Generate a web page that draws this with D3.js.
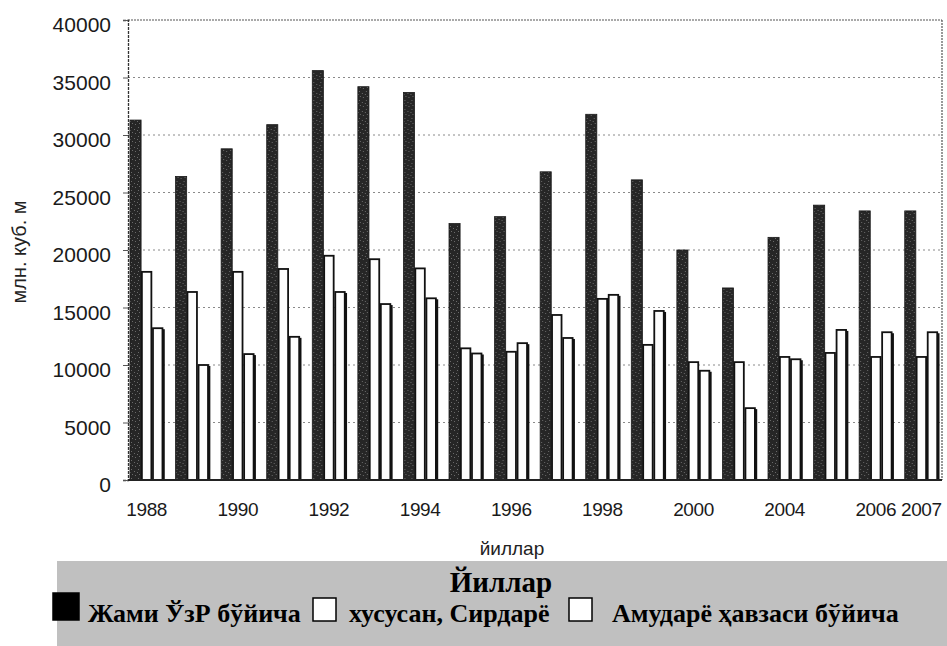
<!DOCTYPE html>
<html>
<head>
<meta charset="utf-8">
<script src="https://cdn.jsdelivr.net/npm/d3@7"></script>
<style>
  html, body { margin: 0; padding: 0; background: #fff; }
  svg { display: block; }
</style>
</head>
<body>
<svg id="chart" width="947" height="646"></svg>
<script>
// ---- data ----
const years = ["1988","1989","1990","1991","1992","1993","1994","1995","1996","1997","1998","1999","2000","2002","2004","2005","2006","2007"];
const tickLabels = ["1988","1990","1992","1994","1996","1998","2000","2004","2006","2007"];
const seriesNames = ["Жами ЎзР бўйича", "хусусан, Сирдарё", "Амударё ҳавзаси бўйича"];
const totalUz   = [31300, 26400, 28800, 30900, 35600, 34200, 33700, 22300, 22900, 26800, 31800, 26100, 20000, 16700, 21100, 23900, 23400, 23400];
const syrdarya  = [18100, 16350, 18100, 18350, 19500, 19200, 18400, 11450, 11150, 14350, 15750, 11750, 10250, 10250, 10700, 11050, 10700, 10700];
const amudarya  = [13200, 10000, 10950, 12450, 16350, 15300, 15800, 11000, 11900, 12350, 16100, 14700,  9500,  6250, 10500, 13050, 12850, 12850];
const yTicks = [0, 5000, 10000, 15000, 20000, 25000, 30000, 35000, 40000];
const yTitle = "млн. куб. м";
const xTitle = "йиллар";
const boxTitle = "Йиллар";

(function () {
const rows = years.map((yr, i) => ({ year: yr, vals: [totalUz[i], syrdarya[i], amudarya[i]] }));

const svg = d3.select("#chart");
const pL = 128, pR = 942, pT = 20, pB = 480;

const y = d3.scaleLinear().domain([0, 40000]).range([pB, pT]);
const x0 = d3.scaleBand().domain(years).range([130, 938]).paddingInner(0.27).paddingOuter(0);
const x1 = d3.scaleBand().domain([0, 1, 2]).range([0, x0.bandwidth()]).padding(0);

// texture for dark bars
const defs = svg.append("defs");
const pat = defs.append("pattern").attr("id", "tex").attr("patternUnits", "userSpaceOnUse")
  .attr("width", 7).attr("height", 9);
pat.append("rect").attr("width", 7).attr("height", 9).attr("fill", "#262626");
[[1,1],[4,3],[2,6],[5,7],[0,4]].forEach(([a,b]) =>
  pat.append("rect").attr("x", a).attr("y", b).attr("width", 1).attr("height", 1).attr("fill", "#6a6a6a"));

// grid lines
svg.append("g").selectAll("line").data(yTicks.filter(t => t > 0 && t < 40000)).join("line")
  .attr("x1", pL).attr("x2", pR)
  .attr("y1", d => y(d)).attr("y2", d => y(d))
  .attr("stroke", "#8a8a8a").attr("stroke-width", 1).attr("stroke-dasharray", "2,3");

// frame: top and right dotted
svg.append("line").attr("x1", pL).attr("x2", pR).attr("y1", pT).attr("y2", pT)
  .attr("stroke", "#555").attr("stroke-width", 1.2).attr("stroke-dasharray", "2,1");
svg.append("line").attr("x1", pR).attr("x2", pR).attr("y1", pT).attr("y2", pB)
  .attr("stroke", "#555").attr("stroke-width", 1.2).attr("stroke-dasharray", "2,1");

// y axis
const yAxis = d3.axisLeft(y).tickValues(yTicks).tickSize(5).tickPadding(12).tickFormat(d => String(d));
const gy = svg.append("g").attr("transform", `translate(${pL},0)`).call(yAxis);
gy.select(".domain").attr("stroke", "#333").attr("stroke-width", 1.3).attr("stroke-dasharray", "3,1");
gy.selectAll(".tick line").attr("stroke", "#555");
gy.selectAll(".tick text").attr("font-family", "Liberation Sans, Arial, sans-serif")
  .attr("font-size", 21).attr("fill", "#1a1a1a").attr("dy", "0.55em");

// bars
const groups = svg.append("g").selectAll("g").data(rows).join("g")
  .attr("transform", d => `translate(${x0(d.year)},0)`);
groups.selectAll("rect").data(d => d.vals.map((v, k) => ({ k, v }))).join("rect")
  .attr("x", d => x1(d.k) + (d.k === 0 ? 0 : 0.8))
  .attr("y", d => y(d.v))
  .attr("width", d => x1.bandwidth() - (d.k === 0 ? 0 : 1.6))
  .attr("height", d => y(0) - y(d.v))
  .attr("fill", d => d.k === 0 ? "url(#tex)" : "#fdfdfd")
  .attr("stroke", d => d.k === 0 ? "#1a1a1a" : "#111")
  .attr("stroke-width", d => d.k === 0 ? 0.8 : 1.8);
// shadow edge on right of second white bar
groups.append("rect")
  .attr("x", x1(2) + x1.bandwidth() - 1)
  .attr("y", d => y(d.vals[2]) + 1)
  .attr("width", 2.5)
  .attr("height", d => y(0) - y(d.vals[2]) - 1)
  .attr("fill", "#111");

// x axis baseline
svg.append("line").attr("x1", pL).attr("x2", pR).attr("y1", pB).attr("y2", pB)
  .attr("stroke", "#222").attr("stroke-width", 2);

// x tick labels
const labelIdx = years.map((yr, i) => i).filter(i => tickLabels.includes(years[i]));
svg.append("g").selectAll("text").data(labelIdx).join("text")
  .attr("x", i => x0(years[i]) + x0.bandwidth() / 2)
  .attr("y", 516)
  .attr("text-anchor", "middle")
  .attr("font-family", "Liberation Sans, Arial, sans-serif")
  .attr("font-size", 19).attr("letter-spacing", "-0.4px").attr("fill", "#1a1a1a")
  .text(i => years[i]);

// axis titles
svg.append("text").attr("x", 512).attr("y", 555).attr("text-anchor", "middle")
  .attr("font-family", "Liberation Sans, Arial, sans-serif").attr("font-size", 19)
  .attr("fill", "#222").text(xTitle);
svg.append("text").attr("transform", "translate(26,252) rotate(-90)").attr("text-anchor", "middle")
  .attr("font-family", "Liberation Sans, Arial, sans-serif").attr("font-size", 20)
  .attr("fill", "#222").text(yTitle);

// grey legend box
svg.append("rect").attr("x", 57).attr("y", 561).attr("width", 890).attr("height", 85).attr("fill", "#c0c0c0");
svg.append("text").attr("x", 501).attr("y", 592).attr("text-anchor", "middle")
  .attr("font-family", "Liberation Serif, Times New Roman, serif").attr("font-weight", "bold")
  .attr("font-size", 29).attr("fill", "#000").text(boxTitle);

const legendFont = "Liberation Serif, Times New Roman, serif";
const legendItems = [
  { sq: [53, 593, 26, 27], fill: "#000", tx: 88 },
  { sq: [313, 598, 23, 23], fill: "#fff", tx: 349 },
  { sq: [569, 598, 23, 23], fill: "#fff", tx: 612 }
];
legendItems.forEach((it, i) => {
  svg.append("rect").attr("x", it.sq[0]).attr("y", it.sq[1]).attr("width", it.sq[2]).attr("height", it.sq[3])
    .attr("fill", it.fill).attr("stroke", "#000").attr("stroke-width", 1.5);
  svg.append("text").attr("x", it.tx).attr("y", 622)
    .attr("font-family", legendFont).attr("font-weight", "bold").attr("font-size", 26)
    .attr("fill", "#000").text(seriesNames[i]);
});
})();
</script>
</body>
</html>
